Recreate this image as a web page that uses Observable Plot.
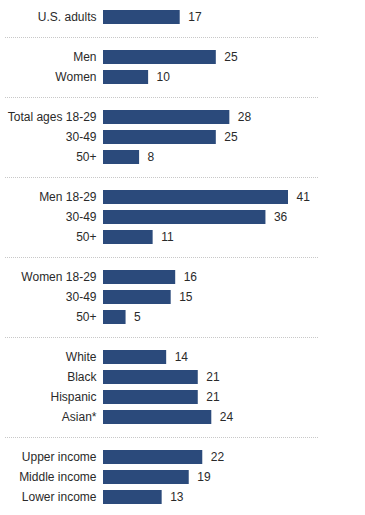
<!DOCTYPE html>
<html>
<head>
<meta charset="utf-8">
<script src="https://cdn.jsdelivr.net/npm/d3@7"></script>
<script src="https://cdn.jsdelivr.net/npm/@observablehq/plot@0.6"></script>
<style>
  html, body { margin: 0; padding: 0; background: #fff; }
  svg { display: block; }
</style>
</head>
<body>
<div id="chart"></div>
<script>
// Data
const groups = [
  { labels: ["U.S. adults"], values: [17] },
  { labels: ["Men", "Women"], values: [25, 10] },
  { labels: ["Total ages 18-29", "30-49", "50+"], values: [28, 25, 8] },
  { labels: ["Men 18-29", "30-49", "50+"], values: [41, 36, 11] },
  { labels: ["Women 18-29", "30-49", "50+"], values: [16, 15, 5] },
  { labels: ["White", "Black", "Hispanic", "Asian*"], values: [14, 21, 21, 24] },
  { labels: ["Upper income", "Middle income", "Lower income"], values: [22, 19, 13] }
];

// Build slots (rows + separators)
const rows = [];
const seps = [];
const domain = [];
const labelOf = new Map();
groups.forEach((g, gi) => {
  if (gi > 0) {
    const id = "sep" + gi;
    domain.push(id);
    seps.push({ id });
    labelOf.set(id, "");
  }
  g.labels.forEach((lab, i) => {
    const id = "r" + gi + "_" + i;
    domain.push(id);
    labelOf.set(id, lab);
    rows.push({ id, label: lab, value: g.values[i] });
  });
});

const chart = Plot.plot({
  width: 365,
  height: 515,
  marginTop: 6,
  marginBottom: 7,
  marginLeft: 103,
  marginRight: 77,
  style: { fontFamily: "Liberation Sans, Arial, sans-serif", fontSize: "12px", color: "#2a2a2a" },
  x: { domain: [0, 41], axis: null },
  y: { domain, paddingInner: 0.3, paddingOuter: 0.15, label: null, axis: null },
  marks: [
    Plot.ruleY(seps, { y: "id", stroke: "#c8c8c8", strokeWidth: 1, strokeDasharray: "1 1", insetLeft: -98, insetRight: -30, clip: false }),
    Plot.barX(rows, { y: "id", x: "value", fill: "#2b4a7b" }),
    Plot.text(rows, { y: "id", x: "value", text: d => String(d.value), textAnchor: "start", dx: 8, fill: "#2a2a2a", fontSize: 12 }),
    Plot.axisY({ tickSize: 0, tickPadding: 7, tickFormat: d => labelOf.get(d), fontSize: 12, fill: "#2a2a2a" })
  ]
});
document.getElementById("chart").appendChild(chart);
</script>
</body>
</html>
